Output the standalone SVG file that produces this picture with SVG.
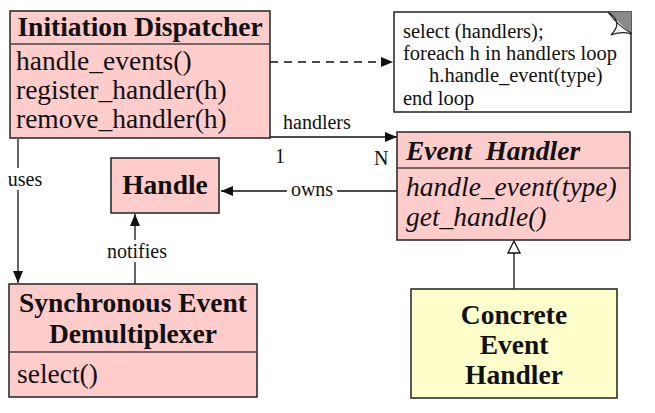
<svg xmlns="http://www.w3.org/2000/svg" width="655" height="413" viewBox="0 0 655 413" font-family="Liberation Serif, Times New Roman, serif">
<defs>
<style>
.box{fill:#ffcccc;stroke:#222;stroke-width:1.5}
.ybox{fill:#ffffcc;stroke:#222;stroke-width:1.5}
.div{stroke:#444;stroke-width:1.5}
.t{fill:#111;font-size:27.5px}
.n{fill:#111;font-size:20.5px}
.b{font-weight:bold}
.i{font-style:italic}
.ln{stroke:#111;stroke-width:1.3;fill:none}
.lbl{font-size:20px;fill:#111}
</style>
<marker id="arr" viewBox="0 0 12 10" refX="12" refY="5" markerWidth="12" markerHeight="10" markerUnits="userSpaceOnUse" orient="auto">
<path d="M0,0 L12,5 L0,10 z" fill="#111"/>
</marker>
</defs>
<rect width="655" height="413" fill="#fff"/>

<g id="connectors" font-family="Liberation Serif, Times New Roman, serif">
<line class="ln" x1="214" y1="62" x2="393" y2="62" stroke-dasharray="8,6" marker-end="url(#arr)"/>
<circle cx="208" cy="62" r="5.5" fill="#fff" stroke="#111" stroke-width="1.3"/>
<line class="ln" x1="270" y1="137" x2="397" y2="137" marker-end="url(#arr)"/>
<text class="lbl" x="283" y="129">handlers</text>
<text class="lbl" x="275" y="163">1</text>
<text class="lbl" x="374" y="165">N</text>
<line class="ln" x1="397" y1="191" x2="221" y2="191" marker-end="url(#arr)"/>
<rect x="287" y="180" width="50" height="22" fill="#fff"/>
<text class="lbl" x="312" y="196" text-anchor="middle">owns</text>
<line class="ln" x1="18" y1="139" x2="18" y2="283" marker-end="url(#arr)"/>
<rect x="6" y="168" width="40" height="22" fill="#fff"/>
<text class="lbl" x="25" y="186" text-anchor="middle">uses</text>
<line class="ln" x1="135" y1="284" x2="135" y2="214" marker-end="url(#arr)"/>
<rect x="104" y="240" width="64" height="22" fill="#fff"/>
<text class="lbl" x="137" y="258" text-anchor="middle">notifies</text>
<line class="ln" x1="514" y1="253" x2="514" y2="289"/>
<path d="M514,241 L520,253 L508,253 z" fill="#fff" stroke="#111" stroke-width="1.3"/>
</g>

<g id="initiation-dispatcher" font-family="Liberation Serif, Times New Roman, serif">
<rect class="box" x="10" y="11" width="260" height="127"/>
<line class="div" x1="10" y1="44" x2="270" y2="44"/>
<text class="t b" x="140" y="36" text-anchor="middle">Initiation Dispatcher</text>
<text class="t" x="16" y="70">handle_events()</text>
<text class="t" x="16" y="99">register_handler(h)</text>
<text class="t" x="16" y="128">remove_handler(h)</text>
</g>

<g id="note" font-family="Liberation Serif, Times New Roman, serif">
<rect x="394" y="12" width="237" height="100" fill="#fff" stroke="#222" stroke-width="1.5"/>
<path d="M608,12 L631,12 L631,34 z" fill="#8a8a8a"/>
<path d="M608,12 Q624,22 611,35 Q622,31 631,34 L631,33 Q618,26 608,12 z" fill="#fff" stroke="#222" stroke-width="1.2"/>
<text class="n" x="403" y="38">select (handlers);</text>
<text class="n" x="403" y="60">foreach h in handlers loop</text>
<text class="n" x="429" y="82">h.handle_event(type)</text>
<text class="n" x="403" y="105">end loop</text>
</g>

<g id="event-handler" font-family="Liberation Serif, Times New Roman, serif">
<rect class="box" x="397" y="132" width="233" height="108"/>
<line class="div" x1="397" y1="168" x2="630" y2="168"/>
<text class="t b i" x="406" y="160" xml:space="preserve">Event  Handler</text>
<text class="t i" x="406" y="196">handle_event(type)</text>
<text class="t i" x="406" y="226">get_handle()</text>
</g>

<g id="handle" font-family="Liberation Serif, Times New Roman, serif">
<rect class="box" x="111" y="158" width="108" height="55"/>
<text class="t b" x="165" y="194" text-anchor="middle">Handle</text>
</g>

<g id="sync-demux" font-family="Liberation Serif, Times New Roman, serif">
<rect class="box" x="9" y="284" width="248" height="113"/>
<line class="div" x1="9" y1="352" x2="257" y2="352"/>
<text class="t b" x="133" y="312" text-anchor="middle">Synchronous Event</text>
<text class="t b" x="133" y="343" text-anchor="middle">Demultiplexer</text>
<text class="t" x="17" y="383">select()</text>
</g>

<g id="concrete-event-handler" font-family="Liberation Serif, Times New Roman, serif">
<rect class="ybox" x="411" y="289" width="206" height="109"/>
<text class="t b" x="514" y="324" text-anchor="middle">Concrete</text>
<text class="t b" x="514" y="354" text-anchor="middle">Event</text>
<text class="t b" x="514" y="384" text-anchor="middle">Handler</text>
</g>
</svg>
